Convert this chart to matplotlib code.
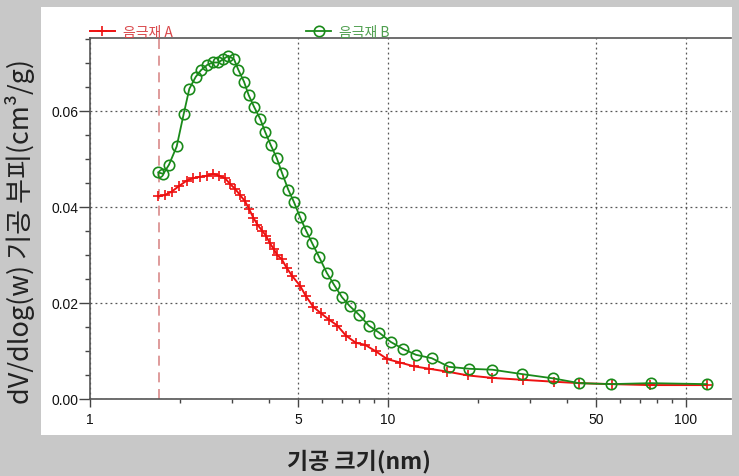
import matplotlib.pyplot as plt
from matplotlib.patches import Rectangle
from matplotlib.ticker import FixedLocator, NullFormatter, MultipleLocator, FormatStrFormatter

# pore size (nm) and dV/dlog(w) (cm3/g)
size_a = [1.695, 1.785, 1.880, 1.994, 2.112, 2.222, 2.340, 2.464, 2.593, 2.716,
          2.838, 2.950, 3.066, 3.186, 3.313, 3.417, 3.537, 3.648, 3.778, 3.896,
          4.004, 4.129, 4.258, 4.392, 4.572, 4.773, 5.067, 5.307, 5.615, 5.945,
          6.353, 6.760, 7.228, 7.806, 8.371, 9.115, 9.947, 10.97, 12.23, 13.76,
          15.81, 18.60, 22.37, 28.31, 36.06, 43.85, 56.3, 75.7, 117.3]
vol_a = [0.0422, 0.0425, 0.0432, 0.0444, 0.0455, 0.0460, 0.0463, 0.0465, 0.0469, 0.0465,
         0.0460, 0.0448, 0.0438, 0.0425, 0.0412, 0.0396, 0.0377, 0.0363, 0.0351, 0.0340,
         0.0326, 0.0313, 0.0299, 0.0292, 0.0273, 0.0256, 0.0236, 0.0214, 0.0192, 0.0179,
         0.0165, 0.0153, 0.0132, 0.0117, 0.0113, 0.0099, 0.0083, 0.0076, 0.0068, 0.0063,
         0.0057, 0.0049, 0.0044, 0.0040, 0.0036, 0.0033, 0.0031, 0.0029, 0.0029]

size_b = [1.695, 1.762, 1.841, 1.954, 2.063, 2.154, 2.263, 2.358, 2.475, 2.580,
          2.695, 2.802, 2.911, 3.042, 3.145, 3.287, 3.408, 3.550, 3.728, 3.867,
          4.041, 4.232, 4.409, 4.628, 4.837, 5.067, 5.307, 5.572, 5.882, 6.229,
          6.590, 7.008, 7.457, 8.012, 8.614, 9.350, 10.21, 11.25, 12.42, 14.02,
          16.02, 18.70, 22.42, 28.10, 35.79, 43.85, 56.0, 76.1, 117.3]
vol_b = [0.0472, 0.0469, 0.0488, 0.0526, 0.0594, 0.0646, 0.0671, 0.0685, 0.0696, 0.0701,
         0.0701, 0.0708, 0.0715, 0.0708, 0.0686, 0.0661, 0.0633, 0.0609, 0.0583, 0.0557,
         0.0529, 0.0502, 0.0471, 0.0436, 0.0410, 0.0379, 0.0351, 0.0324, 0.0295, 0.0263,
         0.0238, 0.0212, 0.0193, 0.0175, 0.0153, 0.0138, 0.0119, 0.0104, 0.0092, 0.0085,
         0.0067, 0.0063, 0.0061, 0.0052, 0.0043, 0.0033, 0.0031, 0.0033, 0.0031]

label_a = '음극재 A'
label_b = '음극재 B'
x_ticks = [1, 5, 10, 50, 100]
x_minor = [2, 3, 4, 6, 7, 8, 9, 20, 30, 40, 60, 70, 80, 90]
cutoff = 1.7

fig = plt.figure(figsize=(7.39, 4.77), dpi=100, facecolor='#c8c8c8')
fig.patches.append(Rectangle((41 / 739, 1 - 436 / 477), 691 / 739, 428 / 477,
                             transform=fig.transFigure, facecolor='white',
                             edgecolor='none', zorder=-1))

ax = fig.add_axes([90 / 739, 77 / 477, 641 / 739, 361 / 477])
ax.set_facecolor('white')

ax.axvline(cutoff, color='#d98a8a', lw=1.2, ls=(0, (6, 4)), zorder=2)
ax.plot(size_a, vol_a, color='#ee1111', lw=1.4, marker='+', ms=7.5, mew=1.2,
        label=label_a, zorder=3)
ax.plot(size_b, vol_b, color='#1a8a1a', lw=1.3, marker='o', ms=7.5, mew=1.2,
        mfc='none', label=label_b, zorder=4)

ax.set_xscale('log')
ax.set_xlim(1, 141.6)
ax.set_ylim(0, 0.0752)

ax.xaxis.set_major_locator(FixedLocator(x_ticks))
ax.xaxis.set_minor_locator(FixedLocator(x_minor))
ax.xaxis.set_minor_formatter(NullFormatter())
ax.set_xticklabels([str(t) for t in x_ticks])
ax.yaxis.set_major_locator(MultipleLocator(0.02))
ax.yaxis.set_minor_locator(MultipleLocator(0.005))
ax.yaxis.set_major_formatter(FormatStrFormatter('%.2f'))

ax.tick_params(axis='x', which='major', length=6, width=1, pad=3.5, color='#444')
ax.tick_params(axis='x', which='minor', length=3, width=1, color='#444')
ax.tick_params(axis='y', which='major', length=8, width=1, pad=0.5, color='#444')
ax.tick_params(axis='y', which='minor', length=3.5, width=1, color='#444')
for lab in ax.get_xticklabels() + ax.get_yticklabels():
    lab.set_fontfamily('Liberation Sans')
    lab.set_fontsize(10)
    lab.set_color('#111')

ax.grid(True, which='major', ls=(0, (1.5, 2.5)), color='#555', lw=0.9)
ax.set_axisbelow(True)
for side in ['left', 'bottom', 'top']:
    ax.spines[side].set_color('#555')
    ax.spines[side].set_linewidth(1.2)
ax.spines['right'].set_visible(False)

leg = ax.legend(loc='lower left', bbox_to_anchor=(-0.0044, 0.99), ncol=2, frameon=False,
                prop={'family': ['Noto Sans CJK KR', 'DejaVu Sans'], 'size': 10},
                handlelength=1.8, handletextpad=0.58, columnspacing=9.6,
                borderpad=0.2, borderaxespad=0)
leg.get_texts()[0].set_color('#d9474a')
leg.get_texts()[1].set_color('#4f9f4f')

fig.text(20 / 739, 1 - 232 / 477, 'dV/dlog(w) 기공 부피(cm³/g)', rotation=90,
         ha='center', va='center', fontsize=19.5, color='#222',
         family=['Noto Sans CJK KR', 'DejaVu Sans'])
fig.text(359 / 739, 1 - 462 / 477, '기공 크기(nm)', ha='center', va='center',
         fontsize=16.5, fontweight='bold', color='#222',
         family=['Noto Sans CJK KR', 'DejaVu Sans'])

fig.savefig('out.png', dpi=100, facecolor=fig.get_facecolor())
